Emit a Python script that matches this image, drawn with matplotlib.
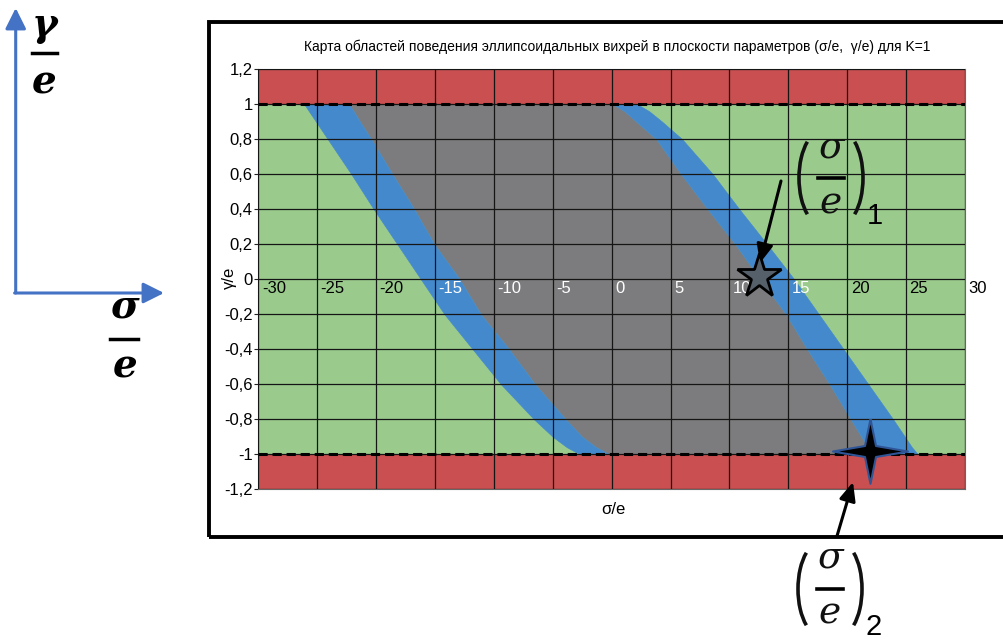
import matplotlib
matplotlib.use("Agg")
import matplotlib.pyplot as plt
from matplotlib.patches import Rectangle, Arc
from matplotlib.lines import Line2D
from matplotlib.transforms import IdentityTransform

W, H = 1004, 641

# gamma levels at which the region borders were read
gamma = [1, 0.96, 0.9, 0.8, 0.6, 0.4, 0.2, 0, -0.2, -0.4, -0.6, -0.8, -0.9, -0.96, -1]
# sigma/e of the four borders at those levels
left_outer = [-26.1, -25.7, -25.1, -24.1, -22.1, -20.2, -18.2, -16.2, -14.2, -11.8, -9.4, -6.6, -5.0, -3.8, -2.7]
left_inner = [-22.3, -21.9, -21.35, -20.4, -18.6, -16.75, -15.05, -12.9, -11.1, -8.7, -6.5, -3.9, -2.5, -1.3, -0.2]
right_inner = [0.1, 1.1, 2.1, 3.8, 5.9, 8.15, 10.5, 12.6, 14.8, 16.6, 18.5, 20.3, 21.2, 21.8, 22.2]
right_outer = [2.2, 3.2, 4.3, 6.0, 8.6, 10.85, 13.2, 15.5, 17.6, 19.7, 21.8, 23.9, 24.9, 25.5, 26.0]

x_ticks = [-30, -25, -20, -15, -10, -5, 0, 5, 10, 15, 20, 25, 30]
x_label_colors = ['black', 'black', 'black', 'white', 'white', 'white', 'white',
                  'white', 'white', 'white', 'black', 'black', 'black']
y_ticks = [1.2, 1, 0.8, 0.6, 0.4, 0.2, 0, -0.2, -0.4, -0.6, -0.8, -1, -1.2]
y_labels = ['1,2', '1', '0,8', '0,6', '0,4', '0,2', '0', '-0,2', '-0,4', '-0,6', '-0,8', '-1', '-1,2']

star1 = (12.5, 0.02)
star2 = (21.9, -0.98)

title = 'Карта областей поведения эллипсоидальных вихрей в плоскости параметров (σ/e,  γ/e) для K=1'

RED = '#CA4F50'
GREEN = '#9ACB8D'
GRAY = '#7C7C7E'
BLUE = '#4489CC'
AXBLUE = '#4472C4'

plt.rcParams['font.family'] = ['Liberation Sans', 'DejaVu Sans']

fig = plt.figure(figsize=(W / 100, H / 100), dpi=100)


def fx(px):
    return px / W


def fy(py):
    return 1 - py / H


ax = fig.add_axes([fx(258.3), fy(489.3), 706.7 / W, 420 / H])
ax.set_xlim(-30, 30)
ax.set_ylim(-1.2, 1.2)

ax.axhspan(1, 1.2, color=RED, lw=0)
ax.axhspan(-1.2, -1, color=RED, lw=0)
ax.axhspan(-1, 1, color=GREEN, lw=0)
ax.fill_betweenx(gamma, left_inner, right_inner, color=GRAY, lw=0)
ax.fill_betweenx(gamma, left_outer, left_inner, color=BLUE, lw=0.4, edgecolor=BLUE)
ax.fill_betweenx(gamma, right_inner, right_outer, color=BLUE, lw=0.4, edgecolor=BLUE)

for t in x_ticks:
    ax.axvline(t, color='#151515', lw=0.9, zorder=3)
for t in y_ticks:
    ax.axhline(t, color='#151515', lw=0.9, zorder=3)
for g in (1, -1):
    ax.axhline(g, color='black', lw=2.2, ls=(0, (3, 1.6)), zorder=4)

for s in ax.spines.values():
    s.set_color('#666666')
    s.set_linewidth(0.8)

ax.set_xticks([])
ax.set_yticks(y_ticks)
ax.set_yticklabels(y_labels, fontsize=12)
ax.tick_params(axis='y', length=3, pad=1, color='#222222')

for t, c in zip(x_ticks, x_label_colors):
    ax.annotate(str(t), (t, 0), xytext=(2.5, -9.6), textcoords='offset points',
                ha='left', va='baseline', color=c, fontsize=12,
                annotation_clip=False, zorder=5)

ax.plot(*star1, marker='*', ms=33, mfc='#56606b', mec='black', mew=2,
        zorder=6, clip_on=False)
sparkle = [(0, 1), (0.17, 0.17), (1.16, 0), (0.17, -0.17), (0, -1),
           (-0.17, -0.17), (-1.16, 0), (-0.17, 0.17), (0, 1)]
ax.plot(*star2, marker=sparkle, ms=54, mfc='black', mec='#2F5597', mew=1.5,
        zorder=6, clip_on=False)

fig.text(fx(617), fy(47), title, ha='center', va='center', fontsize=10)
fig.text(fx(613), fy(510), 'σ/e', ha='center', va='center', fontsize=12)
fig.text(fx(229), fy(278), 'γ/e', ha='center', va='center', fontsize=12, rotation=90)

# frame around the chart
fig.add_artist(Rectangle((fx(209), fy(537)), fx(1015) - fx(209), fy(22) - fy(537),
                         transform=fig.transFigure, fill=False, ec='black', lw=2.8))

# coordinate axes sketch on the left
arrow_kw = dict(arrowstyle='-|>,head_length=0.9,head_width=0.45', color=AXBLUE,
                lw=2.2, mutation_scale=14, shrinkA=0, shrinkB=0)
ax.annotate('', xy=(15.7, H - 8), xytext=(15.7, H - 293), xycoords='figure pixels',
            textcoords='figure pixels', arrowprops=arrow_kw)
ax.annotate('', xy=(164, H - 293), xytext=(14.6, H - 293), xycoords='figure pixels',
            textcoords='figure pixels', arrowprops=arrow_kw)


def hbar(x0, x1, y, lw=2.5):
    fig.add_artist(Line2D([fx(x0), fx(x1)], [fy(y), fy(y)], transform=fig.transFigure,
                          color='black', lw=lw))


bold = dict(family='DejaVu Serif', weight='bold', style='italic', fontsize=28,
            ha='center', va='center')
fig.text(fx(45), fy(25), 'γ', **bold)
fig.text(fx(44), fy(82), 'e', **bold)
fig.text(fx(125), fy(306), 'σ', **bold)
fig.text(fx(125), fy(366), 'e', **bold)
hbar(32, 57, 53)
hbar(110, 138, 339)


def point_label(xc, yc, sub):
    # (sigma / e) with tall parentheses, centred at pixel (xc, yc)
    it = dict(family='DejaVu Serif', style='italic', fontsize=27, ha='center',
              va='center', color='#111111')
    fig.text(fx(xc + 1), fy(yc - 31), 'σ', **it)
    fig.text(fx(xc), fy(yc + 25), 'e', **it)
    hbar(xc - 13, xc + 13, yc, lw=2.6)
    for cx, t1, t2 in ((xc - 9, 112, 248), (xc + 9, -68, 68)):
        fig.add_artist(Arc((cx, H - yc), 46, 94, theta1=t1, theta2=t2,
                           transform=IdentityTransform(), color='#111111', lw=2.6))
    fig.text(fx(xc + 44), fy(yc + 38), sub, fontsize=21, ha='center', va='center')


point_label(831, 178, '1')
point_label(830, 589, '2')

pt_kw = dict(arrowstyle='-|>,head_length=0.8,head_width=0.35', color='black',
             lw=2.2, mutation_scale=14, shrinkA=0, shrinkB=0)
ax.annotate('', xy=(760, H - 263), xytext=(781, H - 181), xycoords='figure pixels',
            textcoords='figure pixels', arrowprops=pt_kw)
ax.annotate('', xy=(853, H - 482), xytext=(837, H - 536), xycoords='figure pixels',
            textcoords='figure pixels', arrowprops=pt_kw)

fig.savefig('out.png', dpi=100)
